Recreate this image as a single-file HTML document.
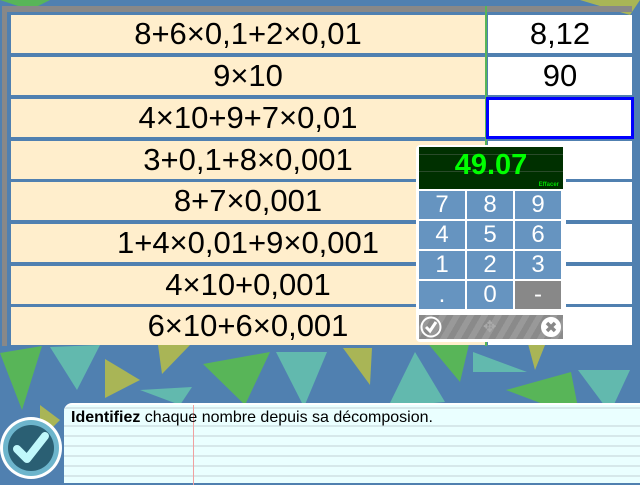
<!DOCTYPE html>
<html><head><meta charset="utf-8">
<style>
*{box-sizing:border-box;margin:0;padding:0}
body{width:640px;height:480px;overflow:hidden;background:#5080b0;font-family:"Liberation Sans",sans-serif;position:relative}
.abs{position:absolute}
.lc{position:absolute;left:11px;width:474px;height:38px;background:#ffeecc;font-size:31px;text-align:center;line-height:38px;color:#000;white-space:nowrap}
.rc{position:absolute;left:488px;width:144px;height:38px;background:#fff;font-size:31px;text-align:center;line-height:38px;color:#000}
.key{position:absolute;width:46px;height:28px;background:#6694c0;color:#fff;font-size:24px;text-align:center;line-height:28px}
</style></head><body>
<svg class="abs" style="left:0;top:0" width="640" height="480">
<polygon points="0,353 42,346 22,410" fill="#58b558"/>
<polygon points="50,347 100,345 77,390" fill="#62b9ae"/>
<polygon points="105,359 140,380 105,398" fill="#a9b556"/>
<polygon points="158,345 190,345 162,374" fill="#a9b556"/>
<polygon points="140,390 192,387 180,405" fill="#62b9ae"/>
<polygon points="203,364 270,352 245,405" fill="#58b558"/>
<polygon points="276,352 327,352 304,407" fill="#62b9ae"/>
<polygon points="343,348 372,348 370,385" fill="#a9b556"/>
<polygon points="415,352 445,402 388,407" fill="#62b9ae"/>
<polygon points="425,340 470,340 460,382" fill="#58b558"/>
<polygon points="473,352 527,372 473,372" fill="#62b9ae"/>
<polygon points="527,340 547,340 535,370" fill="#a9b556"/>
<polygon points="506,390 571,372 580,418" fill="#58b558"/>
<polygon points="578,370 630,370 610,413" fill="#62b9ae"/>
<polygon points="40,405 60,420 40,440" fill="#a9b556"/>
<polygon points="0,0 50,0 30,10" fill="#58b558"/>
<polygon points="580,0 640,0 630,15" fill="#a9b556"/>
</svg>
<div class="abs" style="left:2px;top:6px;width:630px;height:6px;background:#888"></div>
<div class="abs" style="left:2px;top:6px;width:5px;height:340px;background:#888"></div>
<div class="abs" style="left:485px;top:6px;width:2px;height:340px;background:#58b558"></div>

<div class="lc" style="top:15px">8+6×0,1+2×0,01</div>
<div class="lc" style="top:57px">9×10</div>
<div class="lc" style="top:99px">4×10+9+7×0,01</div>
<div class="lc" style="top:141px">3+0,1+8×0,001</div>
<div class="lc" style="top:182px">8+7×0,001</div>
<div class="lc" style="top:224px">1+4×0,01+9×0,001</div>
<div class="lc" style="top:266px">4×10+0,001</div>
<div class="lc" style="top:307px">6×10+6×0,001</div>

<div class="rc" style="top:15px">8,12</div>
<div class="rc" style="top:57px">90</div>
<div class="rc" style="top:97px;left:486px;width:148px;height:42px;border:3px solid #0000ff"></div>
<div class="rc" style="top:141px"></div>
<div class="rc" style="top:182px"></div>
<div class="rc" style="top:224px"></div>
<div class="rc" style="top:266px"></div>
<div class="rc" style="top:307px"></div>

<div class="abs" style="left:416px;top:145px;width:150px;height:197px;background:#fff;border-radius:4px">
 <div class="abs" style="left:3px;top:2px;width:144px;height:42px;background:#003000">
  <div class="abs" style="left:0;top:7px;width:144px;height:1px;background:#2a4a2a"></div>
  <div class="abs" style="left:0;top:24px;width:144px;height:1px;background:#2a4a2a"></div>
  <div class="abs" style="left:0;top:3px;width:144px;text-align:center;color:#00ff00;font-weight:bold;font-size:29px;line-height:30px">49.07</div>
  <div class="abs" style="right:4px;bottom:1px;color:#00dd00;font-size:6px;font-weight:bold">Effacer</div>
 </div>
 <div class="key" style="left:3px;top:46px">7</div>
 <div class="key" style="left:51px;top:46px">8</div>
 <div class="key" style="left:99px;top:46px">9</div>
 <div class="key" style="left:3px;top:76px">4</div>
 <div class="key" style="left:51px;top:76px">5</div>
 <div class="key" style="left:99px;top:76px">6</div>
 <div class="key" style="left:3px;top:106px">1</div>
 <div class="key" style="left:51px;top:106px">2</div>
 <div class="key" style="left:99px;top:106px">3</div>
 <div class="key" style="left:3px;top:136px">.</div>
 <div class="key" style="left:51px;top:136px">0</div>
 <div class="key" style="left:99px;top:136px;background:#888">-</div>
 <div class="abs" style="left:3px;top:170px;width:144px;height:24px;background:repeating-linear-gradient(120deg,#8a8a8a 0 6px,#999 6px 12px)">
  <svg class="abs" style="left:1px;top:1px" width="22" height="22"><circle cx="11" cy="11" r="9.5" fill="none" stroke="#fff" stroke-width="2"/><path d="M6 11 L10 15 L16 6" fill="none" stroke="#fff" stroke-width="3"/></svg>
  <div class="abs" style="left:64px;top:2px;color:#aaa;font-size:16px">✥</div>
  <svg class="abs" style="left:121px;top:1px" width="22" height="22"><circle cx="11" cy="11" r="9.5" fill="#fff" stroke="#fff" stroke-width="1"/><path d="M7 7 L15 15 M15 7 L7 15" stroke="#888" stroke-width="3.5"/></svg>
 </div>
</div>

<div class="abs" style="left:64px;top:403px;width:580px;height:80px;border-radius:8px 0 0 0;background:#eaffff repeating-linear-gradient(180deg,transparent 0 8px,#d6e8ea 8px 10px);background-position:0 12px;border-top:2px solid #fff">
 <div class="abs" style="left:129px;top:0;width:1px;height:80px;background:#f0a0a0"></div>
 <div class="abs" style="left:7px;top:4px;font-size:16px;color:#000;white-space:nowrap"><b>Identifiez</b> chaque nombre depuis sa décomposion.</div>
</div>
<svg class="abs" style="left:0;top:416px" width="64" height="64">
 <circle cx="31" cy="32" r="31" fill="#fff"/>
 <circle cx="31" cy="32" r="28" fill="#6db5cc"/>
 <circle cx="31" cy="32" r="23" fill="#2a5f73"/>
 <path d="M17 33 L27 43 L45 20" fill="none" stroke="#c0f8fb" stroke-width="8" stroke-linecap="round" stroke-linejoin="round"/>
</svg>
</body></html>
